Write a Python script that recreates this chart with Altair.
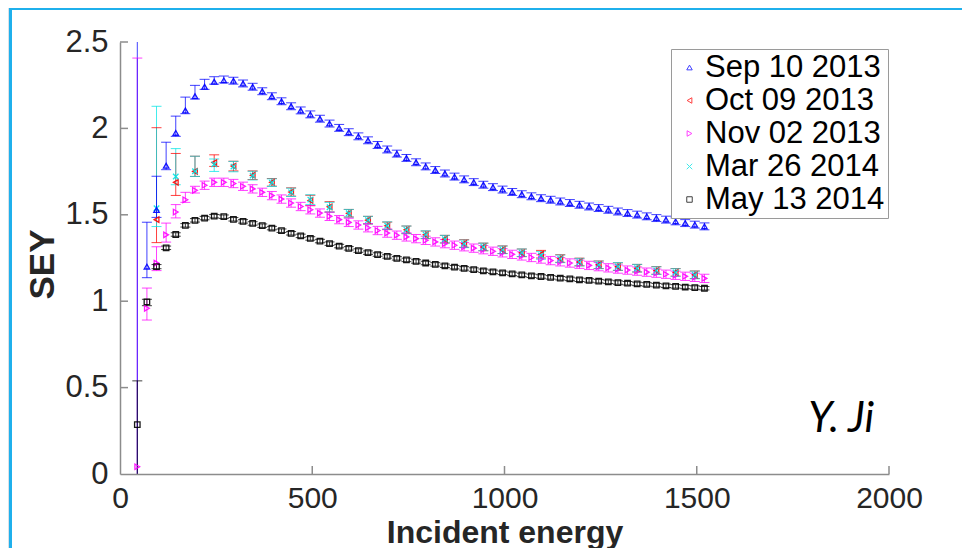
import altair as alt
import pandas as pd

series_names = ["Sep 10 2013", "Oct 09 2013", "Nov 02 2013", "Mar 26 2014", "May 13 2014"]
series_colors = ["#0000ff", "#ff0000", "#ff00ff", "#00e5e5", "#000000"]
series_shapes = ["triangle-up", "triangle-left", "triangle-right",
                 "M-1,-1L1,1M-1,1L1,-1", "square"]

energy_25 = [45, 70, 95, 120, 145, 170, 195, 220, 245, 270, 295, 320, 345, 370, 395,
             420, 445, 470, 495, 520, 545, 570, 595, 620, 645, 670, 695, 720, 745, 770,
             795, 820, 845, 870, 895, 920, 945, 970, 995, 1020, 1045, 1070, 1095, 1120,
             1145, 1170, 1195, 1220, 1245, 1270, 1295, 1320, 1345, 1370, 1395, 1420,
             1445, 1470, 1495, 1520]
energy_50 = [95, 145, 195, 245, 295, 345, 395, 445, 495, 545, 595, 645, 695, 745, 795,
             845, 895, 945, 995, 1045, 1095, 1145, 1195, 1245, 1295, 1345, 1395, 1445, 1495]

sep_sey = [2.70, 1.200, 1.528, 1.784, 1.974, 2.104, 2.186, 2.241, 2.270, 2.278,
           2.276, 2.260, 2.241, 2.215, 2.186, 2.157, 2.128, 2.104, 2.081, 2.056,
           2.028, 2.003, 1.978, 1.954, 1.931, 1.904, 1.878, 1.854, 1.829, 1.804,
           1.780, 1.759, 1.739, 1.721, 1.705, 1.689, 1.674, 1.660, 1.646, 1.632,
           1.619, 1.607, 1.596, 1.587, 1.577, 1.568, 1.558, 1.548, 1.539, 1.529,
           1.519, 1.510, 1.501, 1.491, 1.481, 1.472, 1.462, 1.452, 1.443, 1.433]
sep_err_lo_early = [3.0, 0.064, 0.043, 0.023, 0.02, 0.019, 0.016, 0.015, 0.014, 0.014]
sep_err_hi_early = [2.3, 0.257, 0.195, 0.136, 0.097, 0.077, 0.063, 0.043, 0.029, 0.025]
sep_err_rest = 0.02

oct_sey = [1.472, 1.688, 1.751, 1.802, 1.782, 1.729, 1.688, 1.632, 1.583, 1.546,
           1.509, 1.469, 1.436, 1.413, 1.384, 1.359, 1.334, 1.314, 1.298, 1.280,
           1.272, 1.247, 1.227, 1.211, 1.200, 1.191, 1.178, 1.167, 1.153]
oct_err_lo_early = [0.133, 0.076, 0.029, 0.022, 0.028, 0.025, 0.022, 0.024, 0.03, 0.03]
oct_err_hi_early = [0.532, 0.167, 0.088, 0.045, 0.028, 0.025, 0.022, 0.024, 0.03, 0.03]
oct_err_rest = 0.022

nov_sey = [0.042, 0.959, 1.220, 1.384, 1.516, 1.587, 1.642, 1.671, 1.688, 1.688,
           1.681, 1.665, 1.650, 1.630, 1.611, 1.591, 1.568, 1.548, 1.529, 1.510,
           1.491, 1.472, 1.456, 1.441, 1.425, 1.409, 1.394, 1.382, 1.372, 1.362,
           1.352, 1.343, 1.333, 1.324, 1.315, 1.307, 1.298, 1.289, 1.280, 1.271,
           1.262, 1.253, 1.244, 1.235, 1.228, 1.221, 1.214, 1.207, 1.200, 1.193,
           1.186, 1.180, 1.174, 1.168, 1.162, 1.156, 1.150, 1.144, 1.138, 1.132]
nov_err_lo_early = [2.38, 0.068, 0.043, 0.042, 0.034, 0.015, 0.016]
nov_err_hi_early = [2.365, 0.117, 0.095, 0.068, 0.043, 0.043, 0.023]
nov_err_rest = 0.024

mar_sey = [1.538, 1.722, 1.752, 1.792, 1.779, 1.727, 1.686, 1.630, 1.588, 1.544,
           1.509, 1.469, 1.437, 1.413, 1.385, 1.359, 1.332, 1.314, 1.297, 1.280,
           1.265, 1.245, 1.226, 1.210, 1.201, 1.191, 1.177, 1.166, 1.152]
mar_err_lo_early = [0.106, 0.048, 0.03, 0.041, 0.03, 0.025, 0.022, 0.024, 0.028, 0.028]
mar_err_hi_early = [0.59, 0.161, 0.087, 0.031, 0.03, 0.025, 0.022, 0.024, 0.028, 0.028]
mar_err_rest = 0.022

may_sey = [0.286, 0.996, 1.200, 1.309, 1.386, 1.439, 1.468, 1.481, 1.492, 1.489,
           1.474, 1.462, 1.450, 1.437, 1.423, 1.408, 1.393, 1.378, 1.363, 1.348,
           1.333, 1.319, 1.306, 1.293, 1.281, 1.270, 1.259, 1.248, 1.239, 1.230,
           1.221, 1.213, 1.205, 1.197, 1.190, 1.183, 1.176, 1.170, 1.164, 1.158,
           1.152, 1.147, 1.143, 1.138, 1.133, 1.129, 1.124, 1.120, 1.116, 1.112,
           1.108, 1.104, 1.100, 1.097, 1.093, 1.089, 1.086, 1.082, 1.079, 1.075]
may_err_lo_early = [0.3, 0.022, 0.012]
may_err_hi_early = [0.253, 0.015, 0.012]
may_err_rest = 0.01

x_ticks = [0, 500, 1000, 1500, 2000]
y_ticks = [0, 0.5, 1, 1.5, 2, 2.5]


def errs(early, rest, n):
    return list(early) + [rest] * (n - len(early))


# drawing order (later ones on top)
specs = [
    (series_names[2], energy_25, nov_sey, nov_err_lo_early, nov_err_hi_early, nov_err_rest),
    (series_names[1], energy_50, oct_sey, oct_err_lo_early, oct_err_hi_early, oct_err_rest),
    (series_names[3], energy_50, mar_sey, mar_err_lo_early, mar_err_hi_early, mar_err_rest),
    (series_names[0], energy_25, sep_sey, sep_err_lo_early, sep_err_hi_early, sep_err_rest),
    (series_names[4], energy_25, may_sey, may_err_lo_early, may_err_hi_early, may_err_rest),
]
rows = []
for name, xs, ys, elo, ehi, erest in specs:
    lo = errs(elo, erest, len(ys))
    hi = errs(ehi, erest, len(ys))
    for e, v, a, b in zip(xs, ys, lo, hi):
        rows.append({"series": name, "E": e, "v": v, "lo": v - a, "hi": v + b})
df = pd.DataFrame(rows)

AXIS_GRAY = "#8c8c8c"
LABEL_FONT = "Liberation Sans"
PLOT_W, PLOT_H = 769, 432

xscale = alt.Scale(domain=[0, 2000], nice=False, zero=False)
yscale = alt.Scale(domain=[0, 2.5], nice=False, zero=False)
xaxis = alt.Axis(values=x_ticks, format="d", title="Incident energy", grid=False,
                 tickSize=0, domainColor=AXIS_GRAY, domainWidth=1.5, zindex=1,
                 labelFlush=False, labelOverlap=False,
                 labelFont=LABEL_FONT, labelFontSize=30, labelColor="#262626",
                 labelPadding=9, titleFont=LABEL_FONT, titleFontSize=32,
                 titleFontWeight="bold", titleColor="#262626",
                 titleBaseline="alphabetic", titleY=68)
yaxis = alt.Axis(values=y_ticks, format="~g", title="SEY", grid=False,
                 tickSize=0, domainColor=AXIS_GRAY, domainWidth=1.5, zindex=1,
                 labelFlush=False, labelOverlap=False,
                 labelFont=LABEL_FONT, labelFontSize=31, labelColor="#262626",
                 labelPadding=12, titleFont=LABEL_FONT, titleFontSize=35,
                 titleFontWeight="bold", titleColor="#262626",
                 titleAngle=-90, titleBaseline="alphabetic", titleAlign="center",
                 titleX=-67, titleY=222)
cscale = alt.Scale(domain=series_names, range=series_colors)
sscale = alt.Scale(domain=series_names, range=series_shapes)
legend = alt.Legend(title=None, orient="none", legendX=551, legendY=7, zindex=2)

X = alt.X("E:Q", scale=xscale, axis=xaxis)
C = alt.Color("series:N", scale=cscale, legend=legend)

bg = alt.Chart(pd.DataFrame({"a": [0]})).mark_rect(
    fill="white", stroke="#1fb0ec", strokeWidth=3
).encode(x=alt.value(-109.5), x2=alt.value(1000), y=alt.value(-33.5), y2=alt.value(700))

xt = alt.Chart(pd.DataFrame({"t": x_ticks[1:]})).mark_rule(
    color=AXIS_GRAY, strokeWidth=1.5
).encode(x=alt.X("t:Q", scale=xscale, axis=xaxis), y=alt.value(PLOT_H), y2=alt.value(PLOT_H - 8))

yt = alt.Chart(pd.DataFrame({"t": y_ticks[1:]})).mark_rule(
    color=AXIS_GRAY, strokeWidth=1.5
).encode(y=alt.Y("t:Q", scale=yscale, axis=yaxis), x=alt.value(0), x2=alt.value(8))

base = alt.Chart(df)
bars = base.mark_rule(strokeWidth=1, clip=True, opacity=0.75).encode(
    x=X, y=alt.Y("lo:Q", scale=yscale, axis=yaxis), y2="hi:Q", color=C)
caps_lo = base.mark_point(shape="M-1,0L1,0", size=100, filled=False, strokeWidth=1,
                          clip=True, opacity=0.75).encode(
    x=X, y=alt.Y("lo:Q", scale=yscale, axis=yaxis), color=C)
caps_hi = base.mark_point(shape="M-1,0L1,0", size=100, filled=False, strokeWidth=1,
                          clip=True, opacity=0.75).encode(
    x=X, y=alt.Y("hi:Q", scale=yscale, axis=yaxis), color=C)
markers = base.mark_point(filled=False, size=30, strokeWidth=1.3, clip=True, opacity=0.9).encode(
    x=X, y=alt.Y("v:Q", scale=yscale, axis=yaxis), color=C,
    shape=alt.Shape("series:N", scale=sscale, legend=legend))

note = alt.Chart(pd.DataFrame({"a": [0]})).mark_text(
    text="Y. Ji", font="Lato", fontStyle="italic", fontSize=42, align="left",
    baseline="alphabetic", color="black"
).encode(x=alt.datum(1790, scale=xscale), y=alt.datum(0.243, scale=yscale))

chart = alt.layer(bg, xt, yt, bars, caps_lo, caps_hi, markers, note).properties(
    width=PLOT_W, height=PLOT_H,
    autosize=alt.AutoSizeParams(type="none"),
    padding={"left": 112, "top": 34, "right": 73, "bottom": 74},
    background="#d9e1e8",
).configure_view(stroke=None, fill="white").configure_legend(
    fillColor="white", strokeColor="#9a9a9a", padding=3,
    labelFont=LABEL_FONT, labelFontSize=31, labelColor="black", labelLimit=400,
    symbolSize=30, symbolStrokeWidth=1, symbolOffset=0, labelOffset=0,
    rowPadding=1,
)

chart.save("out.html", embed_options={"renderer": "svg", "actions": False})
